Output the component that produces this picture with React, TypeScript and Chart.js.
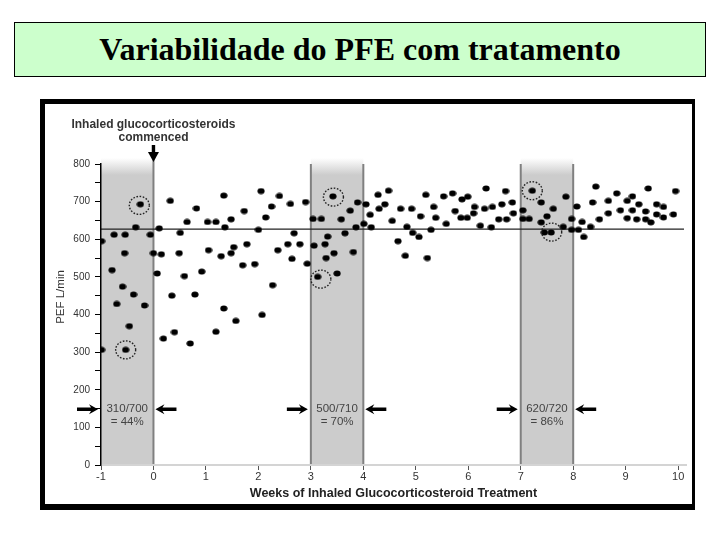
import React, { useEffect, useRef } from "react";
import { Chart, registerables } from "chart.js";

Chart.register(...registerables);

const titleText = "Variabilidade do PFE com tratamento";
const xTitle = "Weeks of Inhaled Glucocorticosteroid Treatment";
const yTitle = "PEF L/min";
const noteLines = ["Inhaled glucocorticosteroids", "commenced"];
const commencedWeek = 0;

const weeks = [
  -0.99, -0.99, -0.79, -0.75, -0.7, -0.59, -0.55, -0.54, -0.53, -0.46, -0.38, -0.34, -0.25, -0.17, -0.06,
  0.0, 0.07, 0.11, 0.15, 0.19, 0.32, 0.35, 0.4, 0.49, 0.51, 0.59, 0.64, 0.7, 0.79, 0.82, 0.92,
  1.03, 1.05, 1.19, 1.19, 1.29, 1.34, 1.34, 1.36, 1.48, 1.48, 1.53, 1.57, 1.7, 1.73, 1.78, 1.93,
  2.0, 2.05, 2.07, 2.14, 2.25, 2.27, 2.37, 2.4, 2.56, 2.61, 2.64, 2.68, 2.79, 2.9, 2.93,
  3.04, 3.06, 3.13, 3.2, 3.27, 3.29, 3.32, 3.42, 3.44, 3.5, 3.58, 3.65, 3.75, 3.81, 3.86, 3.89,
  4.01, 4.05, 4.13, 4.15, 4.28, 4.3, 4.41, 4.48, 4.55, 4.66, 4.71, 4.8, 4.83, 4.92, 4.94,
  5.06, 5.09, 5.19, 5.22, 5.29, 5.34, 5.38, 5.53, 5.58, 5.7, 5.75, 5.86, 5.88, 5.98, 5.99,
  6.1, 6.12, 6.23, 6.31, 6.34, 6.44, 6.46, 6.58, 6.64, 6.71, 6.73, 6.84, 6.86,
  7.04, 7.04, 7.16, 7.22, 7.39, 7.39, 7.45, 7.5, 7.58, 7.62, 7.81, 7.86, 7.97, 7.97,
  8.07, 8.1, 8.17, 8.2, 8.33, 8.37, 8.43, 8.5, 8.67, 8.67, 8.83, 8.9,
  9.03, 9.03, 9.13, 9.13, 9.21, 9.25, 9.38, 9.38, 9.43, 9.48, 9.59, 9.59, 9.72, 9.72, 9.91, 9.95,
];

const pef = [
  306, 595, 518, 612, 428, 474, 563, 612, 306, 369, 453, 632, 693, 424, 612,
  563, 509, 629, 560, 336, 702, 450, 353, 563, 617, 502, 646, 323, 453, 682, 514,
  646, 571, 646, 354, 555, 716, 416, 632, 653, 563, 579, 383, 531, 675, 587, 534,
  625, 728, 399, 658, 687, 478, 571, 715, 587, 694, 548, 616, 587, 699, 535,
  654, 583, 500, 654, 587, 550, 607, 714, 563, 509, 653, 616, 676, 566, 632, 698,
  641, 693, 665, 632, 718, 681, 693, 729, 649, 595, 681, 556, 633, 681, 617,
  606, 661, 718, 550, 625, 686, 657, 714, 641, 722, 675, 657, 706, 657, 713,
  669, 686, 636, 681, 735, 632, 686, 653, 693, 728, 653, 698, 669,
  677, 654, 654, 729, 698, 645, 618, 661, 618, 681, 633, 713, 654, 625,
  687, 625, 646, 606, 633, 698, 740, 653, 702, 669, 722, 677,
  702, 656, 714, 677, 653, 693, 674, 653, 735, 645, 693, 666, 686, 658, 666, 728,
];

const circledWeeks = [-0.27, -0.53, 3.43, 3.19, 7.22, 7.59];
const circledPef = [690, 306, 712, 494, 729, 619];

const bandStarts = [-1, 3, 7];
const bandEnds = [0, 4, 8];
const bandRatios = ["310/700", "500/710", "620/720"];
const bandPercents = ["= 44%", "= 70%", "= 86%"];
const referencePef = 627;
const arrowPef = 148;

const xTickValues = [-1, 0, 1, 2, 3, 4, 5, 6, 7, 8, 9, 10];
const yLabelStep = 100;

const FONT = '"Liberation Sans", Arial, sans-serif';

function makeDot(): HTMLCanvasElement {
  const c = document.createElement("canvas");
  c.width = 8;
  c.height = 7;
  const g = c.getContext("2d")!;
  g.fillStyle = "#000";
  g.beginPath();
  g.ellipse(4, 3.5, 3.6, 3.0, 0, 0, Math.PI * 2);
  g.fill();
  return c;
}

function hArrow(ctx: CanvasRenderingContext2D, tipX: number, yy: number, dir: number) {
  const len = 21, head = 9, hh = 5, sw = 3.4;
  ctx.beginPath();
  ctx.moveTo(tipX, yy);
  ctx.lineTo(tipX - dir * head, yy - hh);
  ctx.lineTo(tipX - dir * (head - 2), yy - sw / 2);
  ctx.lineTo(tipX - dir * len, yy - sw / 2);
  ctx.lineTo(tipX - dir * len, yy + sw / 2);
  ctx.lineTo(tipX - dir * (head - 2), yy + sw / 2);
  ctx.lineTo(tipX - dir * head, yy + hh);
  ctx.closePath();
  ctx.fill();
}

const annotations = {
  id: "annotations",
  beforeDraw(chart: any) {
    const { ctx, scales } = chart;
    const x = scales.x, y = scales.y;
    const y0 = y.getPixelForValue(0);
    const yTop = y.getPixelForValue(800);
    ctx.save();
    bandStarts.forEach((s, i) => {
      const xl = x.getPixelForValue(s);
      const xr = x.getPixelForValue(bandEnds[i]);
      const g = ctx.createLinearGradient(0, yTop - 6, 0, yTop + 11);
      g.addColorStop(0, "#ffffff");
      g.addColorStop(1, "#cccccc");
      ctx.fillStyle = g;
      ctx.fillRect(xl, yTop - 6, xr - xl, y0 - yTop + 6);
      ctx.strokeStyle = "#808080";
      ctx.lineWidth = 2;
      ctx.beginPath();
      if (i > 0) {
        ctx.moveTo(xl, yTop);
        ctx.lineTo(xl, y0);
      }
      ctx.moveTo(xr, i === 0 ? yTop - 10 : yTop);
      ctx.lineTo(xr, y0);
      ctx.stroke();
    });
    const yr = y.getPixelForValue(referencePef);
    ctx.strokeStyle = "#222";
    ctx.lineWidth = 1.2;
    ctx.beginPath();
    ctx.moveTo(x.left, yr);
    ctx.lineTo(x.right - 2, yr);
    ctx.stroke();
    ctx.restore();
  },
  afterDatasetsDraw(chart: any) {
    const { ctx, scales } = chart;
    const x = scales.x, y = scales.y;
    const yTop = y.getPixelForValue(800);
    ctx.save();
    ctx.strokeStyle = "#222";
    ctx.lineWidth = 1.4;
    ctx.setLineDash([1.6, 1.6]);
    circledWeeks.forEach((w, i) => {
      ctx.beginPath();
      ctx.ellipse(x.getPixelForValue(w), y.getPixelForValue(circledPef[i]), 10, 9, 0, 0, Math.PI * 2);
      ctx.stroke();
    });
    ctx.setLineDash([]);
    const ya = y.getPixelForValue(arrowPef);
    bandStarts.forEach((s, i) => {
      const xl = x.getPixelForValue(s);
      const xr = x.getPixelForValue(bandEnds[i]);
      ctx.fillStyle = "#000";
      hArrow(ctx, xl - 3, ya, 1);
      hArrow(ctx, xr + 2, ya, -1);
      ctx.fillStyle = "#444";
      ctx.font = `11.5px ${FONT}`;
      ctx.textAlign = "center";
      ctx.textBaseline = "middle";
      const cx = (xl + xr) / 2;
      ctx.fillText(bandRatios[i], cx, ya);
      ctx.fillText(bandPercents[i], cx, ya + 13);
    });
    const xc = x.getPixelForValue(commencedWeek);
    ctx.fillStyle = "#333";
    ctx.font = `bold 12px ${FONT}`;
    ctx.textAlign = "center";
    ctx.textBaseline = "middle";
    ctx.fillText(noteLines[0], xc, yTop - 39);
    ctx.fillText(noteLines[1], xc, yTop - 26);
    ctx.fillStyle = "#000";
    ctx.fillRect(xc - 1.7, yTop - 19, 3.4, 9);
    ctx.beginPath();
    ctx.moveTo(xc - 5.5, yTop - 12);
    ctx.lineTo(xc + 5.5, yTop - 12);
    ctx.lineTo(xc, yTop - 2);
    ctx.closePath();
    ctx.fill();
    ctx.translate(61, 297);
    ctx.rotate(-Math.PI / 2);
    ctx.fillStyle = "#333";
    ctx.font = `11.5px ${FONT}`;
    ctx.fillText(yTitle, 0, 0);
    ctx.restore();
  },
};

export default function App() {
  const ref = useRef<HTMLCanvasElement>(null);
  useEffect(() => {
    if (!ref.current) return;
    const dot = makeDot();
    const chart = new Chart(ref.current, {
      type: "scatter",
      data: {
        datasets: [
          {
            data: weeks.map((w, i) => ({ x: w, y: pef[i] })),
            pointStyle: dot as any,
            pointRadius: 3.5,
            backgroundColor: "#000",
            borderColor: "#000",
          },
        ],
      },
      options: {
        animation: false,
        responsive: false,
        maintainAspectRatio: false,
        events: [],
        layout: { padding: { left: 40, top: 164, right: 34, bottom: 35 } },
        plugins: {
          legend: { display: false },
          tooltip: { enabled: false },
          title: { display: false },
        },
        scales: {
          x: {
            type: "linear",
            min: -1,
            max: 10.15,
            afterBuildTicks: (s: any) => {
              s.ticks = xTickValues.map((v) => ({ value: v }));
            },
            afterFit: (s: any) => {
              s.height = 40;
            },
            grid: { drawOnChartArea: false, drawTicks: true, tickLength: 5, color: "#555", lineWidth: 1 },
            border: { color: "#d4d4d4", width: 2 },
            ticks: {
              padding: 0,
              autoSkip: false,
              maxRotation: 0,
              color: "#333",
              font: { family: FONT, size: 11 },
            },
            title: {
              display: true,
              text: xTitle,
              color: "#222",
              font: { family: FONT, size: 12.5, weight: "bold" },
              padding: { top: 0, bottom: 4 },
            },
          },
          y: {
            type: "linear",
            min: 0,
            max: 800,
            afterFit: (s: any) => {
              s.width = 61;
            },
            grid: { drawOnChartArea: false, drawTicks: true, tickLength: 6, color: "#000", lineWidth: 1 },
            border: { color: "#000", width: 1.5 },
            ticks: {
              stepSize: 50,
              padding: 5,
              color: "#333",
              font: { family: FONT, size: 10 },
              callback: (v: any) => (Number(v) % yLabelStep === 0 ? String(v) : ""),
            },
          },
        },
      },
      plugins: [annotations],
    });
    return () => chart.destroy();
  }, []);

  return (
    <div style={{ position: "absolute", left: 0, top: 0, width: 720, height: 540, background: "#fff" }}>
      <div
        style={{
          position: "absolute",
          left: 14,
          top: 22,
          width: 692,
          height: 55,
          boxSizing: "border-box",
          border: "1px solid #000",
          background: "#ccffcc",
          display: "flex",
          alignItems: "center",
          justifyContent: "center",
          fontFamily: '"Liberation Serif", "Times New Roman", serif',
          fontWeight: "bold",
          fontSize: 32,
          color: "#000",
        }}
      >
        {titleText}
      </div>
      <div
        style={{
          position: "absolute",
          left: 40,
          top: 99,
          width: 655,
          height: 411,
          boxSizing: "border-box",
          borderStyle: "solid",
          borderColor: "#000",
          borderWidth: "5px 3px 6px 5px",
          background: "#fff",
        }}
      />
      <canvas
        ref={ref}
        width={720}
        height={540}
        style={{ position: "absolute", left: 0, top: 0, width: 720, height: 540 }}
      />
    </div>
  );
}
